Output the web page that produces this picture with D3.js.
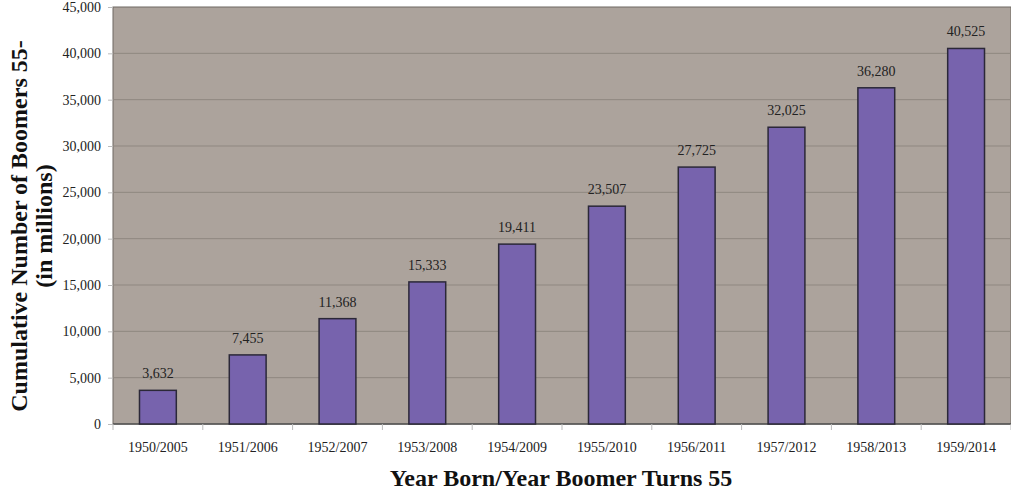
<!DOCTYPE html>
<html>
<head>
<meta charset="utf-8">
<script src="https://cdn.jsdelivr.net/npm/d3@7"></script>
<style>
  body { margin: 0; background: #fff; }
  text { font-family: "Liberation Serif", "Times New Roman", serif; }
</style>
</head>
<body>
<div class="chart_area"></div>
<script>
var categories = ["1950/2005", "1951/2006", "1952/2007", "1953/2008", "1954/2009",
                  "1955/2010", "1956/2011", "1957/2012", "1958/2013", "1959/2014"];
var values = [3632, 7455, 11368, 15333, 19411, 23507, 27725, 32025, 36280, 40525];
var yTicks = [0, 5000, 10000, 15000, 20000, 25000, 30000, 35000, 40000, 45000];

var margin = {top: 7, right: 0, bottom: 71, left: 113},
    width = 1011 - margin.left - margin.right,
    height = 495 - margin.top - margin.bottom;

var svg = d3.select(".chart_area")
  .append("svg")
  .attr("width", 1011)
  .attr("height", 495)
  .append("g")
  .attr("transform", "translate(" + margin.left + "," + margin.top + ")");

var x = d3.scaleBand()
    .domain(categories)
    .range([0, width])
    .paddingInner(0.59)
    .paddingOuter(0.295);

var y = d3.scaleLinear()
    .domain([0, 45000])
    .range([height, 0]);

// plot background
svg.append("rect")
    .attr("width", width)
    .attr("height", height)
    .style("fill", "#aca39c")
    .style("stroke", "#6e6862")
    .style("stroke-width", 1);

// gridlines
svg.selectAll(".grid")
    .data(yTicks.slice(1, -1))
    .enter()
    .append("line")
      .attr("x1", 0)
      .attr("x2", width)
      .attr("y1", function(d) { return y(d); })
      .attr("y2", function(d) { return y(d); })
      .style("stroke", "#8f8780")
      .style("stroke-width", 1);

// y axis
var yAxis = svg.append("g")
    .call(d3.axisLeft(y).tickValues(yTicks).tickFormat(d3.format(",")).tickSize(5).tickPadding(7));
yAxis.select(".domain").remove();
yAxis.selectAll("line").style("stroke", "#bbb");
yAxis.selectAll("text")
    .style("font-size", "14px")
    .style("fill", "#222");

// x axis: ticks at category boundaries
var step = x.step();
var xAxis = svg.append("g")
    .attr("transform", "translate(0," + height + ")");
xAxis.append("line")
    .attr("x1", 0).attr("x2", width)
    .style("stroke", "#555").style("stroke-width", 1.5);
xAxis.selectAll(".tk")
    .data(d3.range(categories.length + 1))
    .enter()
    .append("line")
      .attr("x1", function(i) { return i * step; })
      .attr("x2", function(i) { return i * step; })
      .attr("y1", 0).attr("y2", 6)
      .style("stroke", "#bbb");
xAxis.selectAll(".lbl")
    .data(categories)
    .enter()
    .append("text")
      .attr("x", function(d) { return x(d) + x.bandwidth() / 2; })
      .attr("y", 28)
      .attr("text-anchor", "middle")
      .style("font-size", "14px")
      .style("fill", "#222")
      .text(function(d) { return d; });

// bars
svg.selectAll(".bar")
    .data(values)
    .enter()
    .append("rect")
      .attr("x", function(d, i) { return x(categories[i]); })
      .attr("y", function(d) { return y(d); })
      .attr("width", x.bandwidth())
      .attr("height", function(d) { return height - y(d); })
      .style("fill", "#7763ad")
      .style("stroke", "#2b2838")
      .style("stroke-width", 1.5);

// value labels
svg.selectAll(".val")
    .data(values)
    .enter()
    .append("text")
      .attr("x", function(d, i) { return x(categories[i]) + x.bandwidth() / 2; })
      .attr("y", function(d) { return y(d) - 12; })
      .attr("text-anchor", "middle")
      .style("font-size", "14px")
      .style("fill", "#222")
      .text(function(d) { return d3.format(",")(d); });

// axis titles
svg.append("text")
    .attr("x", 561 - margin.left)
    .attr("y", 486 - margin.top)
    .attr("text-anchor", "middle")
    .style("font-size", "24px")
    .style("font-weight", "bold")
    .style("fill", "#111")
    .text("Year Born/Year Boomer Turns 55");

var yTitle = svg.append("text")
    .attr("transform", "translate(" + (27 - margin.left) + "," + (226 - margin.top) + ") rotate(-90)")
    .attr("text-anchor", "middle")
    .style("font-size", "24px")
    .style("font-weight", "bold")
    .style("fill", "#111");
yTitle.append("tspan").attr("x", 0).attr("dy", 0).text("Cumulative Number of Boomers 55-");
yTitle.append("tspan").attr("x", 0).attr("dy", 25).text("(in millions)");
</script>
</body>
</html>
